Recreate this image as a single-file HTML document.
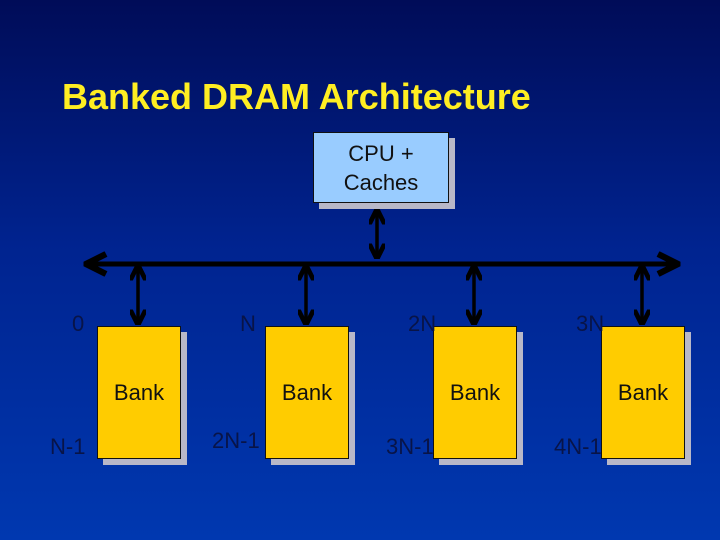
<!DOCTYPE html>
<html><head><style>
body{margin:0;width:720px;height:540px;overflow:hidden;background:linear-gradient(#000c58 0%,#00238f 45%,#0038b0 100%);font-family:"Liberation Sans",sans-serif;position:relative}
.t{position:absolute;left:62px;top:76px;color:#ffee22;font-weight:bold;font-size:36px}
.box{position:absolute;border:1px solid #111;box-shadow:6px 6px 0 #b8b8c8}
.bank{width:82px;height:131px;top:326px;background:#ffcc00;display:flex;align-items:center;justify-content:center;font-size:22px;color:#111}
.cpu{left:313px;top:132px;width:136px;height:71px;background:#99ccff;text-align:center;font-size:22px;line-height:29px;padding-top:6px;box-sizing:border-box;color:#111}
.l{position:absolute;color:#081448;font-size:22px}
</style></head><body>
<div class="t">Banked DRAM Architecture</div>
<svg width="720" height="540" style="position:absolute;left:0;top:0">
<defs><marker id="a" viewBox="0 0 10 10" refX="8" refY="5" markerWidth="4.5" markerHeight="4.5" orient="auto-start-reverse"><path d="M0,0 L10,5 L0,10" fill="none" stroke="#000" stroke-width="3"/></marker>
<marker id="b" viewBox="0 0 10 10" refX="9" refY="5" markerWidth="5" markerHeight="5" orient="auto-start-reverse"><path d="M1,1 L9,5 L1,9" fill="none" stroke="#000" stroke-width="2.5"/></marker></defs>
<line x1="86" y1="264" x2="678" y2="264" stroke="#000" stroke-width="5" marker-start="url(#b)" marker-end="url(#b)"/>
<g stroke="#000" stroke-width="3.5" marker-start="url(#a)" marker-end="url(#a)">
<line x1="377" y1="212" x2="377" y2="256"/>
<line x1="138" y1="268" x2="138" y2="322"/>
<line x1="306" y1="268" x2="306" y2="322"/>
<line x1="474" y1="268" x2="474" y2="322"/>
<line x1="642" y1="268" x2="642" y2="322"/>
</g></svg>
<div class="box cpu">CPU +<br>Caches</div>
<div class="box bank" style="left:97px">Bank</div>
<div class="box bank" style="left:265px">Bank</div>
<div class="box bank" style="left:433px">Bank</div>
<div class="box bank" style="left:601px">Bank</div>
<div class="l" style="left:72px;top:311px">0</div>
<div class="l" style="left:240px;top:311px">N</div>
<div class="l" style="left:408px;top:311px">2N</div>
<div class="l" style="left:576px;top:311px">3N</div>
<div class="l" style="left:50px;top:434px">N-1</div>
<div class="l" style="left:212px;top:428px">2N-1</div>
<div class="l" style="left:386px;top:434px">3N-1</div>
<div class="l" style="left:554px;top:434px">4N-1</div>
</body></html>
